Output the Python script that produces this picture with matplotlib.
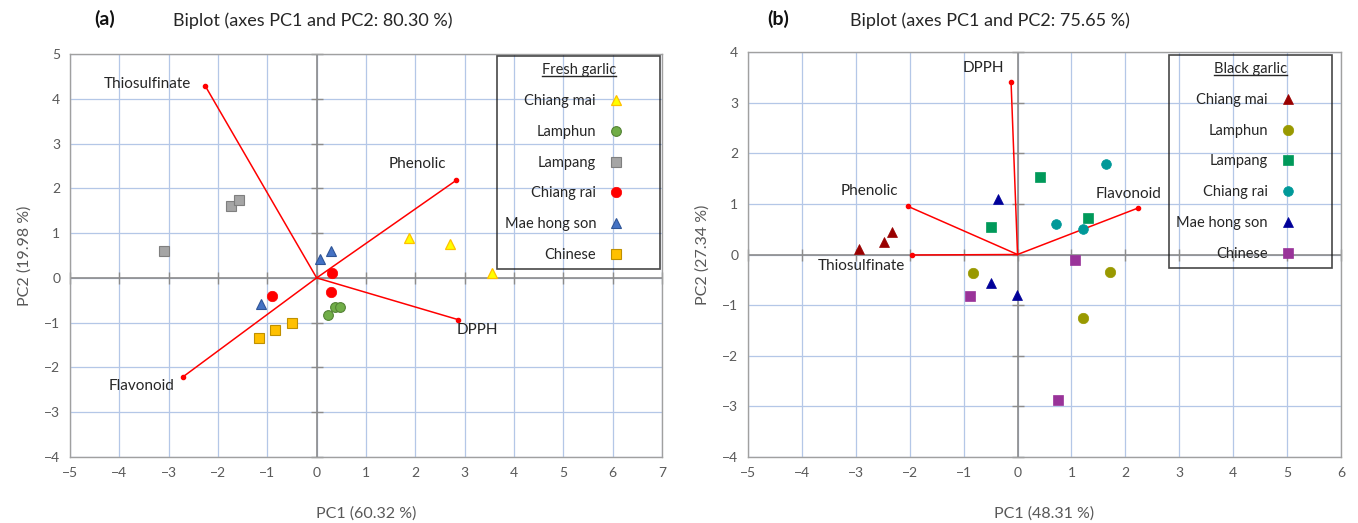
import matplotlib
matplotlib.use("Agg")
import matplotlib.pyplot as plt
from matplotlib.lines import Line2D

plt.rcParams['font.family'] = ['Lato', 'DejaVu Sans']

# ---------------- data ----------------
groups = ['Chiang mai', 'Lamphun', 'Lampang', 'Chiang rai', 'Mae hong son', 'Chinese']

# Fresh garlic scores (PC1, PC2) per group
fresh_pc1 = [[1.87, 2.70, 3.56],
             [0.23, 0.38, 0.48],
             [-1.73, -1.58, -3.09],
             [0.31, 0.29, -0.91],
             [0.06, 0.29, -1.12],
             [-0.51, -0.84, -1.16]]
fresh_pc2 = [[0.89, 0.75, 0.11],
             [-0.82, -0.66, -0.66],
             [1.60, 1.75, 0.60],
             [0.10, -0.31, -0.41],
             [0.42, 0.61, -0.59],
             [-1.00, -1.17, -1.34]]
fresh_vars = ['Thiosulfinate', 'Phenolic', 'DPPH', 'Flavonoid']
fresh_var_pc1 = [-2.26, 2.83, 2.86, -2.71]
fresh_var_pc2 = [4.29, 2.18, -0.93, -2.21]

# Black garlic scores (PC1, PC2) per group
black_pc1 = [[-2.95, -2.48, -2.32],
             [-0.83, 1.71, 1.22],
             [0.41, -0.50, 1.30],
             [1.64, 0.72, 1.22],
             [-0.36, -0.50, -0.01],
             [1.06, -0.89, 0.75]]
black_pc2 = [[0.10, 0.24, 0.45],
             [-0.37, -0.34, -1.26],
             [1.53, 0.54, 0.73],
             [1.78, 0.61, 0.51],
             [1.10, -0.57, -0.80],
             [-0.11, -0.82, -2.87]]
black_vars = ['DPPH', 'Phenolic', 'Thiosulfinate', 'Flavonoid']
black_var_pc1 = [-0.12, -2.03, -1.95, 2.24]
black_var_pc2 = [3.40, 0.95, -0.01, 0.92]

# ---------------- styles / layout ----------------
fresh_styles = [
    dict(marker='^', ms=7, mfc='#FFFF00', mec='#FFC000', mew=0.9),
    dict(marker='o', ms=7, mfc='#70AD47', mec='#548235', mew=0.8),
    dict(marker='s', ms=6.5, mfc='#A5A5A5', mec='#7F7F7F', mew=0.8),
    dict(marker='o', ms=7.5, mfc='#FF0000', mec='#FF0000', mew=0.5),
    dict(marker='^', ms=7, mfc='#4472C4', mec='#2F5597', mew=0.8),
    dict(marker='s', ms=6.5, mfc='#FFC000', mec='#BF9000', mew=0.8),
]
black_styles = [
    dict(marker='^', ms=6.5, mfc='#990000', mec='#990000', mew=0.5),
    dict(marker='o', ms=7.5, mfc='#999900', mec='#999900', mew=0.5),
    dict(marker='s', ms=7, mfc='#00995A', mec='#00995A', mew=0.5),
    dict(marker='o', ms=7, mfc='#009999', mec='#009999', mew=0.5),
    dict(marker='^', ms=6.5, mfc='#000099', mec='#000099', mew=0.5),
    dict(marker='s', ms=7, mfc='#993399', mec='#993399', mew=0.5),
]
fresh_label_xy = [(-3.43, 4.33), (2.04, 2.55), (3.26, -1.17), (-3.54, -2.41)]
black_label_xy = [(-0.64, 3.68), (-2.74, 1.26), (-2.90, -0.22), (2.06, 1.20)]

GRID = '#B4C7E7'
AXIS = '#8C8C8C'
TXT = '#595959'

fig = plt.figure(figsize=(13.58, 5.23), dpi=100)
axA = fig.add_axes([70 / 1358, 66 / 523, 592 / 1358, 403 / 523])
axB = fig.add_axes([748 / 1358, 66 / 523, 593 / 1358, 405 / 523])


def draw_panel(ax, pcx, pcy, styles, vnames, vx, vy, lab_xy, xlim, ylim,
               leg_title, leg_anchor, xlabel, ylabel):
    ax.set_xlim(*xlim)
    ax.set_ylim(*ylim)
    xt = list(range(xlim[0], xlim[1] + 1))
    yt = list(range(ylim[0], ylim[1] + 1))
    ax.set_xticks(xt)
    ax.set_yticks(yt)
    ax.grid(True, color=GRID, lw=0.9, zorder=0)
    ax.set_axisbelow(True)
    for s in ax.spines.values():
        s.set_color('#A0A0A0')
        s.set_linewidth(1.0)
    ax.tick_params(length=0, labelcolor=TXT, labelsize=10, pad=7)
    ax.axhline(0, color=AXIS, lw=1.2, zorder=1)
    ax.axvline(0, color=AXIS, lw=1.2, zorder=1)
    # tick marks on zero axes (Excel style)
    ax.plot(xt, [0] * len(xt), ls='none', marker='|', ms=8, mew=1.0,
            color=AXIS, zorder=1, clip_on=False)
    ax.plot([0] * len(yt), yt, ls='none', marker='_', ms=8, mew=1.0,
            color=AXIS, zorder=1, clip_on=False)
    # loading vectors
    for name, x, y, (lx, ly) in zip(vnames, vx, vy, lab_xy):
        ax.plot([0, x], [0, y], color='#FF0000', lw=1.1, zorder=3)
        ax.plot([x], [y], 'o', ms=3, color='#FF0000', zorder=3)
        ax.text(lx, ly, name, fontsize=11, color='#262626',
                ha='center', va='center', zorder=4)
    # scores
    handles = []
    for xs, ys, st in zip(pcx, pcy, styles):
        ax.plot(xs, ys, ls='none', zorder=5, **st)
        handles.append(Line2D([], [], ls='none', **st))
    leg = ax.legend(handles, groups, loc='upper right', bbox_to_anchor=leg_anchor,
                    markerfirst=False, frameon=True, fancybox=False,
                    edgecolor='#1A1A1A', facecolor='none', framealpha=None,
                    title=leg_title, title_fontsize=10.5, fontsize=10.5,
                    labelspacing=1.15, handletextpad=-1.1, handlelength=5.0,
                    borderpad=0.5, borderaxespad=0.0)
    leg.get_frame().set_linewidth(1.2)
    for t in leg.get_texts():
        t.set_color('#262626')
    leg.get_title().set_color('#262626')
    leg.set_zorder(6)
    ax.set_xlabel(xlabel, fontsize=11.5, color=TXT, labelpad=20)
    ax.set_ylabel(ylabel, fontsize=11.5, color=TXT, labelpad=9)
    return leg


legA = draw_panel(axA, fresh_pc1, fresh_pc2, fresh_styles, fresh_vars,
                  fresh_var_pc1, fresh_var_pc2, fresh_label_xy, (-5, 7), (-4, 5),
                  'Fresh garlic', (0.997, 0.995), 'PC1 (60.32 %)', 'PC2 (19.98 %)')
legB = draw_panel(axB, black_pc1, black_pc2, black_styles, black_vars,
                  black_var_pc1, black_var_pc2, black_label_xy, (-5, 6), (-4, 4),
                  'Black garlic', (0.985, 0.993), 'PC1 (48.31 %)', 'PC2 (27.34 %)')

fig.text(105 / 1358, 1 - 19 / 523, '(a)', fontsize=14, fontweight='bold',
         ha='center', va='center', color='#111111')
fig.text(313 / 1358, 1 - 21 / 523, 'Biplot (axes PC1 and PC2: 80.30 %)', fontsize=13,
         ha='center', va='center', color='#262626')
fig.text(778 / 1358, 1 - 19 / 523, '(b)', fontsize=14, fontweight='bold',
         ha='center', va='center', color='#111111')
fig.text(990 / 1358, 1 - 21 / 523, 'Biplot (axes PC1 and PC2: 75.65 %)', fontsize=13,
         ha='center', va='center', color='#262626')

# underline legend titles
fig.canvas.draw()
inv = fig.transFigure.inverted()
for leg in (legA, legB):
    bb = leg.get_title().get_window_extent()
    (x0, y0), (x1, _) = inv.transform([(bb.x0, bb.y0 + 1), (bb.x1, bb.y0)])
    fig.add_artist(Line2D([x0, x1], [y0, y0], transform=fig.transFigure,
                          color='#262626', lw=1.0, zorder=10))

fig.savefig('out.png', dpi=100)
